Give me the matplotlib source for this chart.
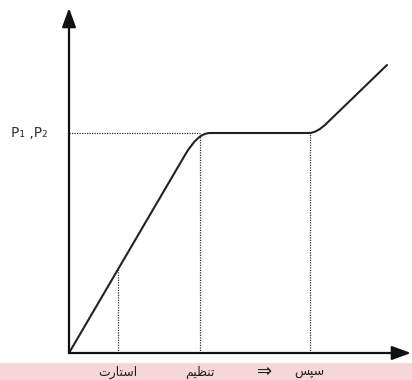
import matplotlib
matplotlib.use('Agg')
import matplotlib.pyplot as plt
from matplotlib.path import Path
from matplotlib.patches import PathPatch

# Persian labels, written in visual order with presentation forms
# (matplotlib does no Arabic shaping by itself)
lbl_start = '\uFE95\uFEAD\uFE8E\uFE98\uFEB3\uFE8D'   # استارت
lbl_adjust = '\uFEE2\uFBFF\uFEC8\uFEE8\uFE97'        # تنظیم
lbl_then = '\uFEB2\uFB59\uFEB3'                      # سپس
lbl_arrow = '\u21D2'
p_label = 'P\u2081 ,P\u2082'

# curve (x, y), knees are quadratic bezier controls
p_level = 220
rise1 = [(0, 0), (116, 198)]
knee1 = [(128.7, p_level), (141, p_level)]
flat_end = (240, p_level)
knee2 = [(248, p_level), (258, 230)]
rise2_end = (318, 288)

# dotted guide positions
mark_x = [49, 131, 241]
mark_top = [84, p_level, p_level]
label_x = [49, 131, 196, 240]
label_txt = [lbl_start, lbl_adjust, lbl_arrow, lbl_then]
label_size = [9, 9, 13, 9]

fig = plt.figure(figsize=(4.12, 3.80), dpi=100)
ax = fig.add_axes([0, 0, 1, 1])
ax.set_xlim(-69, 343)
ax.set_ylim(-27, 353)
ax.axis('off')

# pink strip at the bottom
ax.axhspan(-27, -9.5, color='#f7d6da', lw=0)

# axes with arrow heads
arrow = dict(arrowstyle='-|>,head_length=1.15,head_width=0.42', color='#111111',
             lw=1.6, shrinkA=0, shrinkB=0)
ax.annotate('', xy=(0, 345), xytext=(0, 0), arrowprops=arrow)
ax.annotate('', xy=(342, 0), xytext=(0, 0), arrowprops=arrow)

# curve
verts = rise1 + knee1 + [flat_end] + knee2 + [rise2_end]
codes = [Path.MOVETO, Path.LINETO, Path.CURVE3, Path.CURVE3, Path.LINETO,
         Path.CURVE3, Path.CURVE3, Path.LINETO]
ax.add_patch(PathPatch(Path(verts, codes), fill=False, ec='#222222', lw=1.5,
                       capstyle='round', joinstyle='round'))

# dotted guides
dots = dict(color='#333333', lw=0.9, ls=(0, (1, 1)))
for x, top in zip(mark_x, mark_top):
    ax.plot([x, x], [0, top], **dots)
ax.plot([0, mark_x[1]], [p_level, p_level], **dots)

ax.text(-21, p_level, p_label, ha='right', va='center', fontsize=10,
        color='#333333', family=['DejaVu Sans'])

for x, t, s in zip(label_x, label_txt, label_size):
    ax.text(x, -19, t, ha='center', va='center', fontsize=s,
            color='#222222', family=['DejaVu Sans'])

fig.savefig('out.png', dpi=100)
